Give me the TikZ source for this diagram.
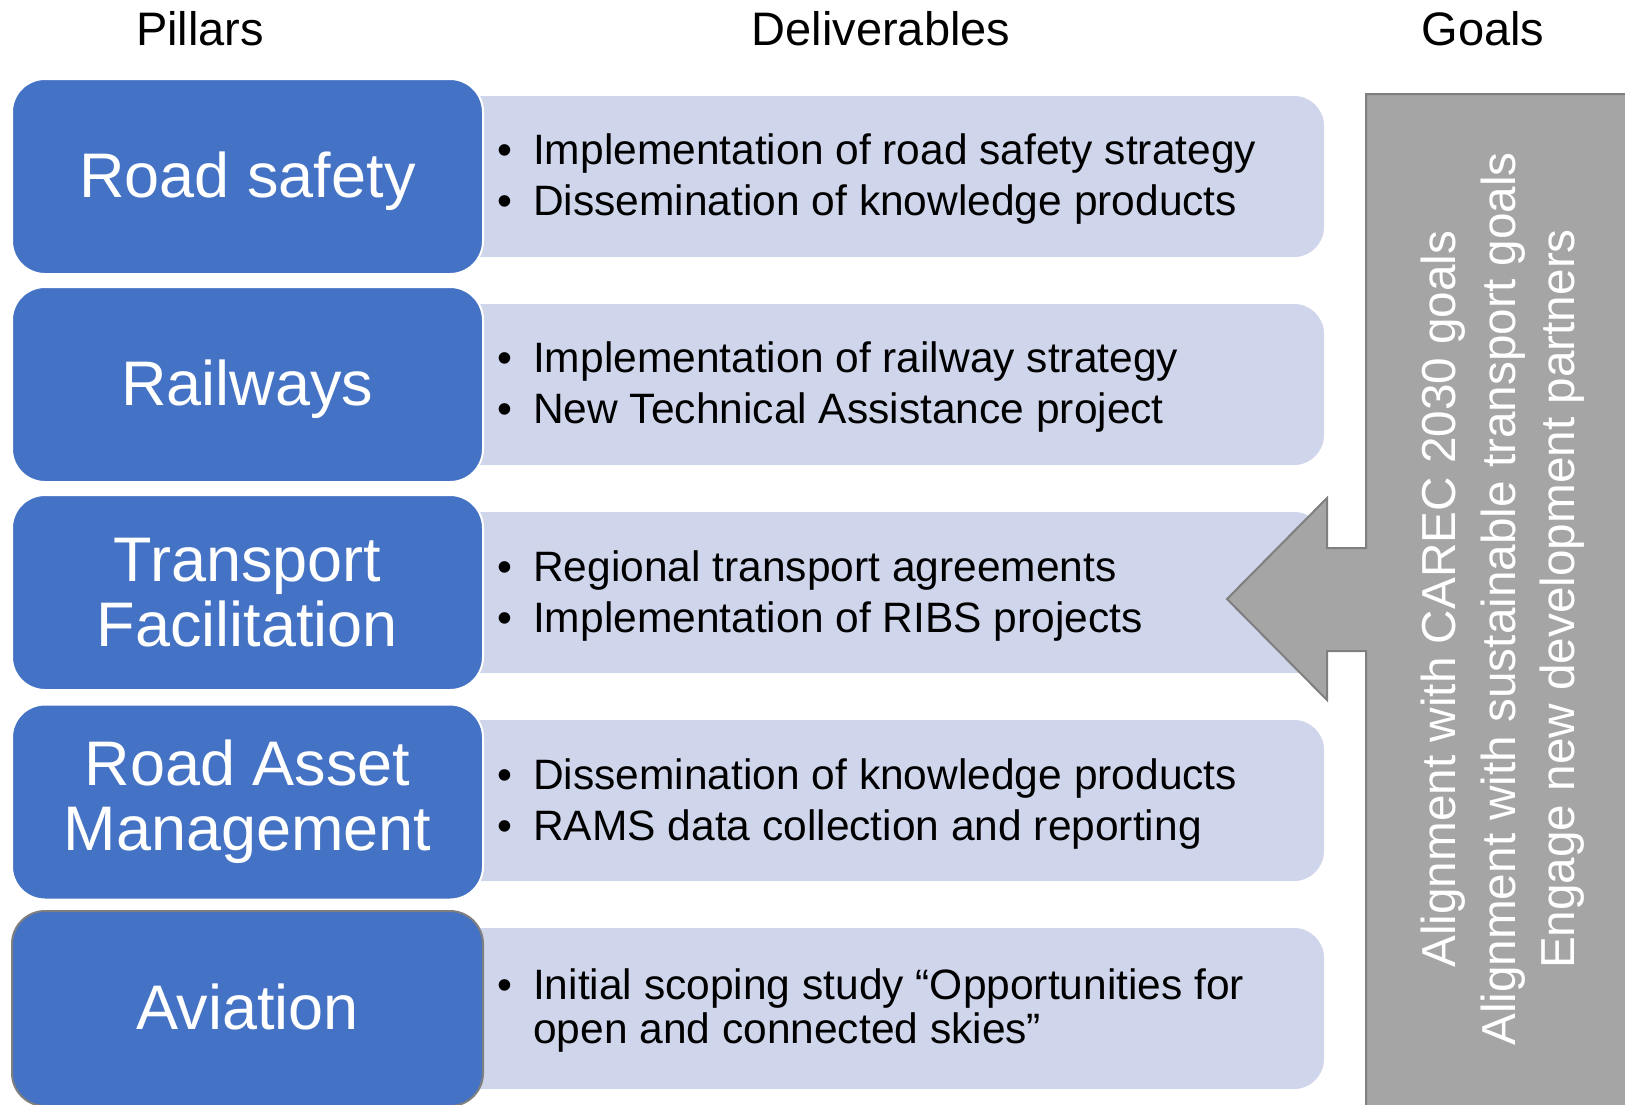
\documentclass[tikz,border=0pt]{standalone}
\usepackage{fontspec}
\setmainfont{Liberation Sans}
\definecolor{pillarblue}{HTML}{4472C4}
\definecolor{delivfill}{HTML}{CFD5EA}
\definecolor{goalfill}{HTML}{A5A5A5}
\definecolor{goalline}{HTML}{7F7F7F}
\newcommand{\itm}{\makebox[36pt][l]{\textbullet}}
\begin{document}
\begin{tikzpicture}[x=1pt,y=-1pt,
    heading/.style={font=\fontsize{47}{56}\selectfont},
    pillar/.style={fill=pillarblue,draw=white,line width=2pt,rounded corners=33pt,
      minimum width=471pt,minimum height=195pt,text=white,align=center,
      font=\fontsize{63}{65}\selectfont},
    oneline/.style={text height=45pt,text depth=4pt},
    deliv/.style={fill=delivfill,rounded corners=30pt,minimum width=884pt,minimum height=161pt},
    items/.style={anchor=west,inner sep=0pt,align=left,font=\fontsize{42.5}{44}\selectfont}]
      \useasboundingbox (0,0) rectangle (1625,1104);
      \clip (0,0) rectangle (1625,1104);
      \node[heading] (pillars) at (200,29) {Pillars};
      \node[heading] (deliverables) at (881,29) {Deliverables};
      \node[heading] (goals) at (1483,29) {Goals};
      \node[deliv] (d1) at (882,176.5) {};
      \node[deliv] (d2) at (882,384.5) {};
      \node[deliv] (d3) at (882,592.5) {};
      \node[deliv] (d4) at (882,800.5) {};
      \node[deliv] (d5) at (882,1008.5) {};
      \node[pillar,oneline] (road) at (247.5,176.5) {Road safety};
      \node[pillar,oneline] (rail) at (247.5,384.5) {Railways};
      \node[pillar] (transport) at (247.5,592.5) {Transport\\Facilitation};
      \node[pillar] (asset) at (247.5,802) {Road Asset\\Management};
      \node[pillar,oneline,draw=goalline] (aviation) at (247.5,1008.5) {Aviation};
      \node[items] (t1) at (497,179.5) {\itm Implementation of road safety strategy\\[7pt]\itm Dissemination of knowledge products};
      \node[items] (t2) at (497,387.5) {\itm Implementation of railway strategy\\[7pt]\itm New Technical Assistance project};
      \node[items] (t3) at (497,595.5) {\itm Regional transport agreements\\[7pt]\itm Implementation of RIBS projects};
      \node[items] (t4) at (497,803.5) {\itm Dissemination of knowledge products\\[7pt]\itm RAMS data collection and reporting};
      \node[items] (t5) at (497,1010) {\itm Initial scoping study “Opportunities for\\\hspace*{36pt}open and connected skies”};
      \draw[fill=goalfill,draw=goalline,line width=2pt]
        (1366,94) -- (1650,94) -- (1650,1120) -- (1366,1120) -- (1366,651) -- (1327,651)
        -- (1327,700) -- (1227,599) -- (1327,498) -- (1327,548) -- (1366,548) -- cycle;
      \node[rotate=90,align=center,text=white,font=\fontsize{47.7}{59.5}\selectfont] (goaltext) at (1503,599)
        {Alignment with CAREC 2030 goals\\Alignment with sustainable transport goals\\Engage new development partners};
    \end{tikzpicture}
\end{document}
